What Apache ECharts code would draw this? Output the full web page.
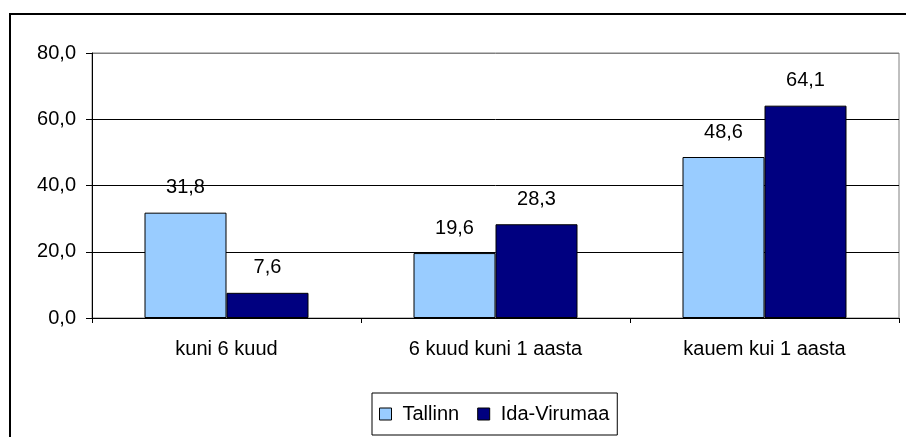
<!DOCTYPE html>
<html>
<head>
<meta charset="utf-8">
<script src="https://cdn.jsdelivr.net/npm/echarts@6/dist/echarts.min.js"></script>
<style>
html,body{margin:0;padding:0;background:#fff;}
#c{width:906px;height:437px;}
</style>
</head>
<body>
<div id="c"></div>
<script>
const categories = ['kuni 6 kuud', '6 kuud kuni 1 aasta', 'kauem kui 1 aasta'];
const seriesNames = ['Tallinn', 'Ida-Virumaa'];
const tallinn = [31.8, 19.6, 48.6];
const idaVirumaa = [7.6, 28.3, 64.1];
const yTicks = [0, 20, 40, 60, 80];

const FONT = '"Liberation Sans", Arial, sans-serif';
const fmt = v => Number(v).toFixed(1).replace('.', ',');

const chart = echarts.init(document.getElementById('c'), null, {renderer: 'canvas'});
chart.setOption({
  backgroundColor: '#fff',
  animation: false,
  textStyle: {fontFamily: FONT},
  graphic: [{
    type: 'rect',
    shape: {x: 10, y: 14, width: 1000, height: 1000},
    style: {fill: 'none', stroke: '#000', lineWidth: 2},
    silent: true, z: 100
  }],
  grid: {
    left: 92, right: 7, top: 53, bottom: 119,
    show: true, borderColor: '#808080', borderWidth: 1, backgroundColor: '#fff'
  },
  legend: {
    data: seriesNames,
    left: 372, top: 393,
    orient: 'horizontal',
    icon: 'rect',
    itemWidth: 12, itemHeight: 12,
    itemGap: 18,
    padding: [10, 8, 10, 7],
    borderColor: '#000', borderWidth: 1,
    backgroundColor: '#fff',
    itemStyle: {borderColor: '#000', borderWidth: 1},
    textStyle: {fontFamily: FONT, fontSize: 20, color: '#000', lineHeight: 22, padding: [0, 0, 0, 6]}
  },
  xAxis: {
    type: 'category',
    data: categories,
    axisLine: {lineStyle: {color: '#000', width: 1}},
    axisTick: {show: true, alignWithLabel: false, length: 5, lineStyle: {color: '#000'}},
    axisLabel: {fontFamily: FONT, fontSize: 20, color: '#000', margin: 21},
    splitLine: {show: false}
  },
  yAxis: {
    type: 'value',
    min: yTicks[0], max: yTicks[yTicks.length - 1], interval: yTicks[1] - yTicks[0],
    axisLine: {show: true, lineStyle: {color: '#000', width: 1}},
    axisTick: {show: true, length: 6, lineStyle: {color: '#000'}},
    axisLabel: {fontFamily: FONT, fontSize: 20, color: '#000', margin: 16, formatter: fmt},
    splitLine: {show: true, lineStyle: {color: ['#000', '#000', '#000', '#000', '#808080'], width: 1}}
  },
  series: [
    {
      name: seriesNames[0], type: 'bar', data: tallinn,
      barWidth: 82, barGap: '0%',
      itemStyle: {color: '#99CCFF', borderColor: '#000', borderWidth: 1},
      label: {show: true, position: 'top', distance: 15, fontFamily: FONT, fontSize: 20, color: '#000', formatter: p => fmt(p.value)}
    },
    {
      name: seriesNames[1], type: 'bar', data: idaVirumaa,
      barWidth: 82, barGap: '0%',
      itemStyle: {color: '#000080', borderColor: '#000', borderWidth: 1},
      label: {show: true, position: 'top', distance: 15, fontFamily: FONT, fontSize: 20, color: '#000', formatter: p => fmt(p.value)}
    }
  ]
});
</script>
</body>
</html>
